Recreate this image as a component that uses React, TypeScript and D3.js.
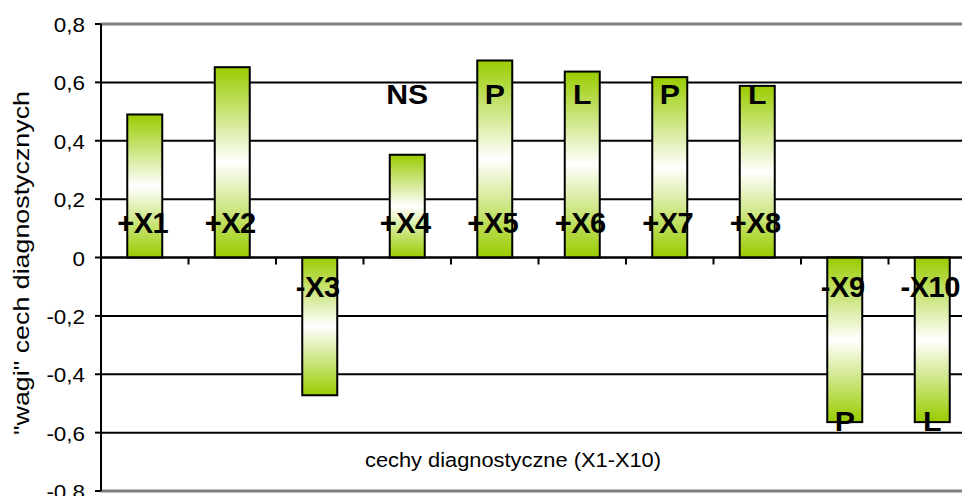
import React from "react";
import * as d3 from "d3";

const categories = ["X1", "X2", "X3", "X4", "X5", "X6", "X7", "X8", "X9", "X10"];
const values = [0.49, 0.652, -0.472, 0.352, 0.675, 0.637, 0.618, 0.588, -0.564, -0.564];
const barLabels = ["+X1", "+X2", "-X3", "+X4", "+X5", "+X6", "+X7", "+X8", "-X9", "-X10"];
const typeLabels = ["", "", "", "NS", "P", "L", "P", "L", "P", "L"];
const yTicks = [-0.8, -0.6, -0.4, -0.2, 0, 0.2, 0.4, 0.6, 0.8];
const yTitle = "\"wagi\" cech diagnostycznych";
const xTitle = "cechy diagnostyczne (X1-X10)";

const W = 962;
const H = 496;
const plotLeft = 101;
const plotRight = 976;
const plotTop = 24;
const plotBottom = 491;
const FONT = "'Liberation Sans', Arial, Helvetica, sans-serif";

export default function App() {
  const x = d3.scaleBand<string>().domain(categories).range([plotLeft, plotRight]).paddingInner(0).paddingOuter(0);
  const y = d3.scaleLinear().domain([-0.8, 0.8]).range([plotBottom, plotTop]);
  const bw = x.bandwidth() * 0.4;
  const fmt = (v: number) => (v === 0 ? "0" : d3.format(".1f")(v).replace(".", ",").replace("−", "-"));
  const y0 = y(0);

  return (
    <svg
      width={W}
      height={H}
      style={{ position: "fixed", left: 0, top: 0, background: "#fff" }}
      fontFamily={FONT}
    >
      <defs>
        <linearGradient id="barGrad" x1="0" y1="0" x2="0" y2="1">
          <stop offset="0%" stopColor="#99CC00" />
          <stop offset="50%" stopColor="#ffffff" />
          <stop offset="100%" stopColor="#99CC00" />
        </linearGradient>
        <clipPath id="plotClip">
          <rect x={0} y={0} width={W} height={436} />
        </clipPath>
      </defs>
      <rect x={0} y={0} width={W} height={H} fill="#fff" />
      {yTicks.map((t) => (
        <line
          key={"g" + t}
          x1={plotLeft}
          x2={W}
          y1={y(t)}
          y2={y(t)}
          stroke={Math.abs(t) === 0.8 ? "#808080" : "#000"}
          strokeWidth={Math.abs(t) === 0.8 ? 3 : 2}
        />
      ))}
      {yTicks.map((t) => (
        <g key={"yt" + t}>
          <line x1={plotLeft - 6} x2={plotLeft} y1={y(t)} y2={y(t)} stroke="#000" strokeWidth={2} />
          <text
            transform={`translate(${85},${y(t) + 8}) scale(1.15,1)`}
            textAnchor="end"
            fontSize={19.5}
            fill="#000"
          >
            {fmt(t)}
          </text>
        </g>
      ))}
      <line x1={plotLeft} x2={plotLeft} y1={plotTop} y2={plotBottom} stroke="#000" strokeWidth={2} />
      {categories.map((c, i) => {
        const v = values[i];
        const cx = (x(c) as number) + x.bandwidth() / 2;
        const top = Math.min(y(v), y0);
        const h = Math.abs(y(v) - y0);
        return (
          <rect
            key={"b" + c}
            x={cx - bw / 2}
            y={top}
            width={bw}
            height={h}
            fill="url(#barGrad)"
            stroke="#000"
            strokeWidth={2}
          />
        );
      })}
      <line x1={plotLeft} x2={W} y1={y0} y2={y0} stroke="#000" strokeWidth={2} />
      {categories.map((c) => (
        <line
          key={"xt" + c}
          x1={x(c) as number}
          x2={x(c) as number}
          y1={y0}
          y2={y0 + 7}
          stroke="#000"
          strokeWidth={2}
        />
      ))}
      {categories.map((c, i) => {
        const v = values[i];
        const cx = (x(c) as number) + x.bandwidth() / 2;
        const by = v >= 0 ? y(0.085) : y(-0.137);
        return (
          <text
            key={"l" + c}
            transform={`translate(${cx - 2},${by}) scale(0.97,1)`}
            textAnchor="middle"
            fontSize={30}
            fontWeight="bold"
            fill="#000"
            letterSpacing={-0.5}
          >
            {barLabels[i]}
          </text>
        );
      })}
      <g clipPath="url(#plotClip)">
        {categories.map((c, i) => {
          if (!typeLabels[i]) return null;
          const v = values[i];
          const cx = (x(c) as number) + x.bandwidth() / 2;
          const by = v >= 0 ? y(0.527) : y(-0.595);
          return (
            <text
              key={"t" + c}
              transform={`translate(${cx},${by}) scale(1.08,1)`}
              textAnchor="middle"
              fontSize={28}
              fontWeight="bold"
              fill="#000"
            >
              {typeLabels[i]}
            </text>
          );
        })}
      </g>
      <text
        transform={`translate(513,467) scale(1.12,1)`}
        textAnchor="middle"
        fontSize={19.5}
        fill="#000"
      >
        {xTitle}
      </text>
      <text
        transform={`translate(29,263) rotate(-90) scale(1.22,1)`}
        textAnchor="middle"
        fontSize={22}
        fill="#000"
      >
        {yTitle}
      </text>
    </svg>
  );
}
